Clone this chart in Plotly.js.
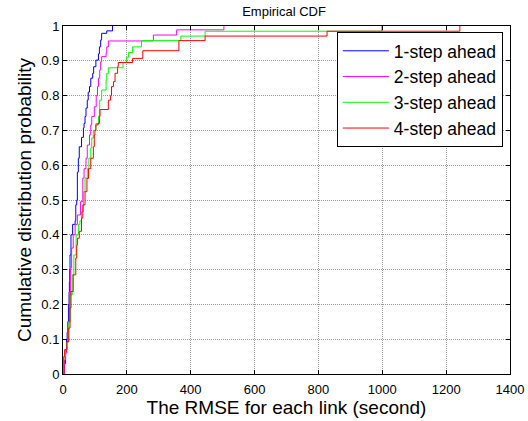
<!DOCTYPE html>
<html>
<head>
<meta charset="utf-8">
<script src="https://cdn.plot.ly/plotly-3.0.1.min.js"></script>
<style>html,body{margin:0;padding:0;background:#fff;}#chart{width:528px;height:421px;}</style>
</head>
<body>
<div id="chart"></div>
<script>
// Empirical CDF knots (RMSE in seconds, cumulative probability)
const seriesNames = ["1-step ahead", "2-step ahead", "3-step ahead", "4-step ahead"];
const seriesColors = ["#0000ff", "#ff00ff", "#00ff00", "#ff0000"];

const step1X = [2, 4, 8, 11, 13, 15, 17, 19, 20, 21, 22, 25, 30, 38, 40, 43, 45, 48, 51, 58, 64, 66, 69, 72, 76, 79, 83, 87, 93, 96, 103, 111, 114, 118, 121, 137, 155];
const step1Y = [0, 0.03, 0.064, 0.10, 0.12, 0.15, 0.20, 0.236, 0.265, 0.30, 0.342, 0.40, 0.43, 0.44, 0.486, 0.50, 0.58, 0.62, 0.653, 0.68, 0.707, 0.72, 0.74, 0.764, 0.787, 0.81, 0.826, 0.85, 0.864, 0.883, 0.902, 0.92, 0.94, 0.96, 0.979, 0.986, 1];

const step2X = [1, 5, 8, 12, 15, 20, 24, 27, 32, 38, 45, 55, 62, 66, 72, 76, 83, 87, 90, 98, 104, 108, 111, 115, 118, 121, 135, 137, 142, 145, 283, 356, 504];
const step2Y = [0, 0.04, 0.06, 0.092, 0.15, 0.227, 0.305, 0.362, 0.40, 0.43, 0.457, 0.495, 0.563, 0.59, 0.62, 0.658, 0.687, 0.716, 0.74, 0.768, 0.80, 0.826, 0.85, 0.874, 0.897, 0.912, 0.924, 0.94, 0.957, 0.957, 0.974, 0.989, 1];

const step3X = [1, 2, 8, 12, 18, 24, 29, 34, 41, 48, 53, 58, 64, 69, 76, 81, 87, 90, 95, 103, 111, 114, 115, 121, 135, 137, 142, 188, 199, 205, 218, 246, 369, 445, 998];
const step3Y = [0, 0.05, 0.07, 0.092, 0.15, 0.227, 0.285, 0.342, 0.40, 0.43, 0.44, 0.466, 0.524, 0.563, 0.59, 0.62, 0.65, 0.678, 0.70, 0.72, 0.74, 0.764, 0.787, 0.816, 0.845, 0.864, 0.88, 0.895, 0.91, 0.924, 0.94, 0.958, 0.971, 0.985, 1];

const step4X = [1, 3, 5, 12, 18, 22, 25, 32, 40, 43, 45, 51, 58, 62, 69, 75, 80, 87, 95, 98, 100, 103, 110, 114, 116, 142, 149, 152, 158, 163, 171, 173, 218, 250, 363, 445, 827, 1243];
const step4Y = [0, 0.05, 0.07, 0.093, 0.132, 0.19, 0.237, 0.285, 0.333, 0.37, 0.39, 0.41, 0.448, 0.486, 0.524, 0.562, 0.59, 0.62, 0.653, 0.687, 0.70, 0.716, 0.72, 0.74, 0.76, 0.787, 0.80, 0.826, 0.84, 0.864, 0.883, 0.895, 0.907, 0.929, 0.958, 0.971, 0.985, 1];

const xTickVals = [0, 200, 400, 600, 800, 1000, 1200, 1400];
const yTickVals = [0, 0.1, 0.2, 0.3, 0.4, 0.5, 0.6, 0.7, 0.8, 0.9, 1];
const yTickText = ["0", "0.1", "0.2", "0.3", "0.4", "0.5", "0.6", "0.7", "0.8", "0.9", "1"];

const xs = [step1X, step2X, step3X, step4X];
const ys = [step1Y, step2Y, step3Y, step4Y];

const traces = seriesNames.map((n, i) => ({
  type: "scatter", mode: "lines", name: n,
  x: xs[i], y: ys[i],
  line: {color: seriesColors[i], width: 1, shape: "hv"}
}));

const fontFam = "Liberation Sans, Arial, sans-serif";
const axisCommon = {
  showline: true, linecolor: "#000", linewidth: 1, mirror: "ticks",
  ticks: "inside", ticklen: 4, tickcolor: "#000", tickwidth: 1,
  showgrid: true, gridcolor: "#9a9a9a", griddash: "1px,1px", gridwidth: 1,
  zeroline: false, tickfont: {family: fontFam, size: 13, color: "#000"}
};

const layout = {
  width: 528, height: 421,
  margin: {l: 63, r: 18, t: 26, b: 47},
  paper_bgcolor: "#fff", plot_bgcolor: "#fff",
  title: {text: "Empirical CDF", font: {family: fontFam, size: 13, color: "#000"},
          x: 0.538, xanchor: "center", y: 0.972, yanchor: "middle", yref: "container"},
  xaxis: Object.assign({}, axisCommon, {
    range: [0, 1400], tickvals: xTickVals, ticktext: xTickVals.map(String),
    ticklabelstandoff: 3,
    title: {text: "The RMSE for each link (second)", font: {family: fontFam, size: 19, color: "#000"}, standoff: 1}
  }),
  yaxis: Object.assign({}, axisCommon, {
    range: [0, 1], tickvals: yTickVals, ticktext: yTickText,
    title: {text: "Cumulative distribution probability", font: {family: fontFam, size: 19, color: "#000"}, standoff: 4}
  }),
  showlegend: true,
  legend: {
    x: 0.984, xanchor: "right", y: 0.983, yanchor: "top",
    bgcolor: "#fff", bordercolor: "#000", borderwidth: 1,
    font: {family: fontFam, size: 17.5, color: "#000"},
    itemwidth: 46, tracegroupgap: 0
  }
};

Plotly.newPlot("chart", traces, layout, {displayModeBar: false, staticPlot: true});
</script>
</body>
</html>
